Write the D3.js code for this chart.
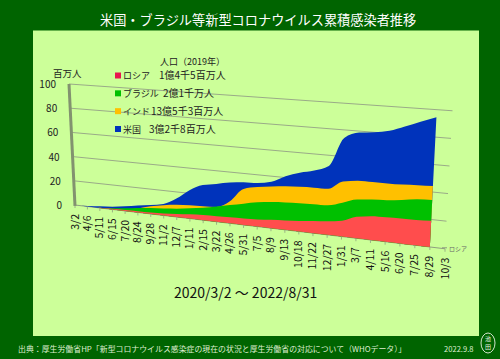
<!DOCTYPE html>
<html>
<head>
<meta charset="utf-8">
<script src="https://cdn.jsdelivr.net/npm/d3@7"></script>
<style>
  html, body { margin: 0; padding: 0; background: #006400; }
  svg { display: block; }
  text { font-family: "Noto Sans CJK JP", "Noto Sans", sans-serif; }
</style>
</head>
<body>
<svg id="chart" width="500" height="359"></svg>
<script>
// tick labels, one every 5 weeks from 2020/3/2
const dateLabels = ["3/2","4/6","5/11","6/15","7/20","8/24","9/28","11/2","12/7","1/11","2/15","3/22","4/26","5/31",
  "7/5","8/9","9/13","10/18","11/22","12/27","1/31","3/7","4/11","5/16","6/20","7/25","8/29","10/3"];

// cumulative cases in millions, read at each tick up to 8/29
const usa = [0,0.3,1.3,2.1,3.7,5.7,7.1,9.2,14.7,22.5,27.7,29.7,31.9,33.2,33.6,35.7,41,44.8,47.5,52,74,78.9,80,82,86,90.4,94.5];
const india = [0,0,0.1,0.3,1.1,3.1,6.1,8.2,9.7,10.5,10.9,11.6,17.3,28,30.5,32,33.3,34,34.5,34.8,41.3,42.9,43,43.1,43.3,43.9,44.4];
const brazil = [0,0,0.2,0.9,2.1,3.6,4.7,5.5,6.6,8.1,9.8,12,14.3,16.5,18.7,20.1,21,21.6,22,22.3,25.4,28.9,30,30.7,32,33.7,34.3];
const russia = [0,0,0.2,0.5,0.8,1,1.2,1.6,2.4,3.4,4.1,4.4,4.7,5,5.5,6.4,7.1,8,9.3,10.3,11.9,16,17.6,18,18.3,18.5,19.1];

const yTicks = [0,20,40,60,80,100];

const legendTitle = "人口（2019年）";
const legendNames = ["ロシア","ブラジル","インド","米国"];
const legendPops = ["1億4千5百万人","2億1千万人","13億5千3百万人","3億2千8百万人"];
const legendColors = ["#e8164f","#00c000","#ffc000","#0033bb"];

const svg = d3.select("#chart");

svg.append("rect").attr("width",500).attr("height",359).attr("fill","#006400");
svg.append("rect").attr("x",33).attr("y",30.5).attr("width",446).attr("height",305.5)
  .attr("fill","#ccff99");

// the chart is a perspective view, so x ticks get wider to the right
const k = 1.11;
const persp = t => t / (t + k * (1 - t));
const tScale = d3.scaleLinear().domain([0, dateLabels.length - 1]).range([0, 1]);
const baseX = d3.scaleLinear().domain([0,1]).range([75, 445]);
const baseY = d3.scaleLinear().domain([75,430]).range([205, 247]);
const lean = d3.scaleLinear().domain([0,1]).range([-6, 7.5]);
const unit = d3.scaleLinear().domain([0,1]).range([1.21, 1.38]);

function px(i, v) {
  const s = persp(tScale(i));
  return baseX(s) + lean(s) * v / 100;
}
function py(i, v) {
  const s = persp(tScale(i));
  return baseY(baseX(s)) - unit(s) * v;
}

// gridlines
const last = dateLabels.length - 1;
svg.append("g").selectAll("line").data(yTicks.slice(1)).join("line")
  .attr("x1", d => px(0,d)).attr("y1", d => py(0,d))
  .attr("x2", d => px(last,d)).attr("y2", d => py(last,d))
  .attr("stroke","#94a086").attr("stroke-width",0.9);

// floor line and axis
svg.append("line").attr("x1",px(0,0)).attr("y1",py(0,0)).attr("x2",px(last,0)).attr("y2",py(last,0))
  .attr("stroke","#8f9f80").attr("stroke-width",1);
svg.append("line").attr("x1",px(0,0)).attr("y1",py(0,0)+1).attr("x2",px(0,100)).attr("y2",py(0,100))
  .attr("stroke","#82926f").attr("stroke-width",3);

// series, back to front
const area = d3.area()
  .x0((d,i) => px(i,0)).y0((d,i) => py(i,0))
  .x1((d,i) => px(i,d)).y1((d,i) => py(i,d))
  .curve(d3.curveMonotoneX);

const layers = [[usa,"#0033bb"],[india,"#ffc000"],[brazil,"#00c000"],[russia,"#ff4d4d"]];
svg.append("g").selectAll("path").data(layers).join("path")
  .attr("d", d => area(d[0])).attr("fill", d => d[1]);

// x ticks and labels
const xt = svg.append("g");
dateLabels.forEach((lab, i) => {
  xt.append("line").attr("x1",px(i,0)).attr("x2",px(i,0)).attr("y1",py(i,0)).attr("y2",py(i,0)+3)
    .attr("stroke","#8f9f80").attr("stroke-width",0.8);
  xt.append("text").text(lab)
    .attr("transform",`translate(${px(i,0)+3.5},${py(i,0)+9}) rotate(-90)`)
    .attr("text-anchor","end").attr("font-size",10.5).attr("fill","#111");
});

// y labels
svg.append("g").selectAll("text").data(yTicks).join("text")
  .text(d => d)
  .attr("x", d => px(0,d) - 13).attr("y", d => py(0,d) + 4)
  .attr("text-anchor","end").attr("font-size",10).attr("fill","#222");

svg.append("text").text("百万人").attr("x",53).attr("y",77).attr("font-size",9.5).attr("fill","#222");

// depth axis label
svg.append("line").attr("x1",px(last,0)-3).attr("y1",py(last,0)-1).attr("x2",px(last,0)+2).attr("y2",py(last,0)-1)
  .attr("stroke","#8f9f80");
svg.append("text").text("ロシア").attr("x",449).attr("y",251).attr("font-size",6).attr("fill","#666");

// legend
svg.append("text").text(legendTitle).attr("x",160).attr("y",65).attr("font-size",9).attr("fill","#222");
const legendY = d3.scalePoint().domain(d3.range(legendNames.length)).range([75.5, 129]);
const popX = [44, 48, 36, 34];
const lg = svg.append("g").selectAll("g").data(legendNames).join("g")
  .attr("transform",(d,i) => `translate(115,${legendY(i)})`);
lg.append("rect").attr("y",-3).attr("width",6).attr("height",6).attr("fill",(d,i) => legendColors[i]);
lg.append("text").text(d => d).attr("x",8).attr("y",3.5).attr("font-size",9).attr("fill","#222");
lg.append("text").text((d,i) => legendPops[i]).attr("x",(d,i) => popX[i]).attr("y",3.5)
  .attr("font-size",10).attr("fill","#222");

// title, range, footer
svg.append("text").text("米国・ブラジル等新型コロナウイルス累積感染者推移")
  .attr("x",100).attr("y",25).attr("font-size",13.2).attr("fill","#fff");
svg.append("text").text("2020/3/2 〜 2022/8/31")
  .attr("x",174).attr("y",298).attr("font-size",14).attr("fill","#111");
svg.append("text").text("出典：厚生労働省HP「新型コロナウイルス感染症の現在の状況と厚生労働省の対応について（WHOデータ）」")
  .attr("x",18).attr("y",352).attr("font-size",7.9).attr("fill","#dfeed0");
svg.append("text").text("2022.9.8")
  .attr("x",444).attr("y",352).attr("font-size",7.6).attr("fill","#dfeed0");

// stamp
svg.append("ellipse").attr("cx",488).attr("cy",343).attr("rx",7).attr("ry",10)
  .attr("fill","none").attr("stroke","#e8f0e0").attr("stroke-width",0.9);
svg.append("text").text("池").attr("x",488).attr("y",341).attr("text-anchor","middle").attr("font-size",6).attr("fill","#e8f0e0");
svg.append("text").text("田").attr("x",488).attr("y",349).attr("text-anchor","middle").attr("font-size",6).attr("fill","#e8f0e0");
</script>
</body>
</html>
